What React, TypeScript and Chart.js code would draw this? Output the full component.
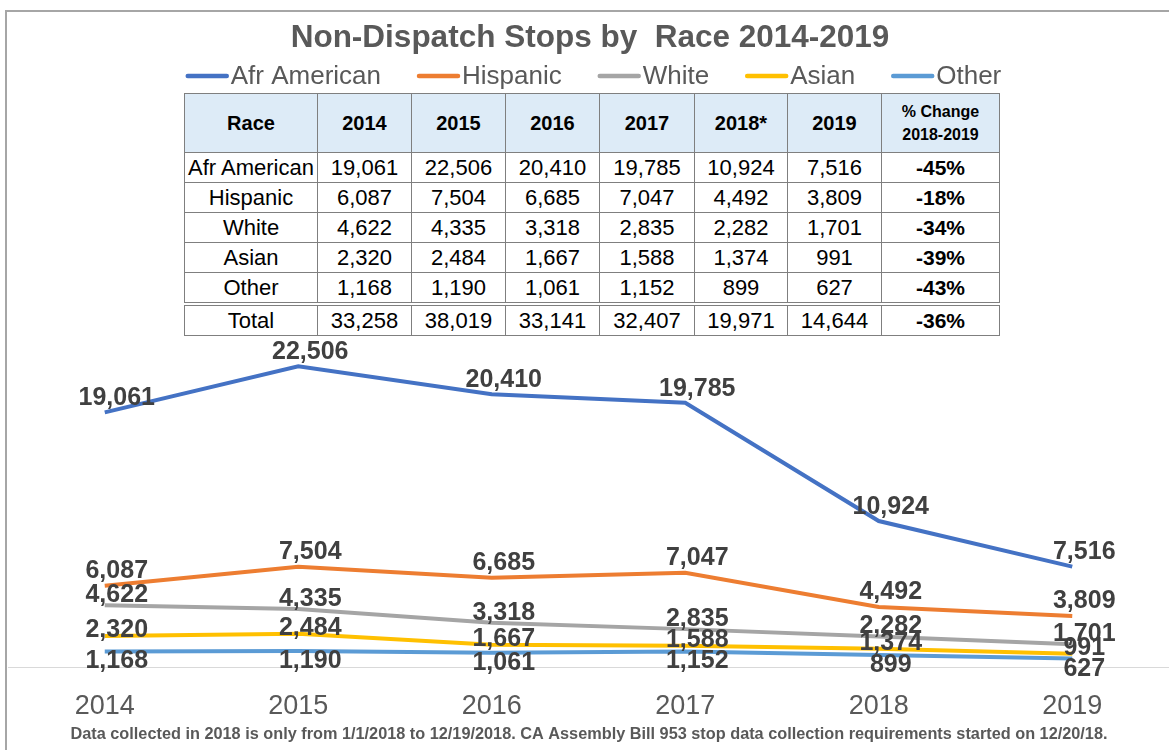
import React, { useEffect, useRef } from "react";
import { Chart, registerables } from "chart.js";

Chart.register(...registerables);

// ---------- data ----------
const years = ["2014", "2015", "2016", "2017", "2018", "2019"];
const tableYears = ["2014", "2015", "2016", "2017", "2018*", "2019"];
const races = ["Afr American", "Hispanic", "White", "Asian", "Other"];
const afrAmerican = [19061, 22506, 20410, 19785, 10924, 7516];
const hispanic = [6087, 7504, 6685, 7047, 4492, 3809];
const white = [4622, 4335, 3318, 2835, 2282, 1701];
const asian = [2320, 2484, 1667, 1588, 1374, 991];
const other = [1168, 1190, 1061, 1152, 899, 627];
const totals = [33258, 38019, 33141, 32407, 19971, 14644];
const pctChange = ["-45%", "-18%", "-34%", "-39%", "-43%", "-36%"];

const seriesValues = [afrAmerican, hispanic, white, asian, other];

// ---------- style ----------
const seriesColors = ["#4472C4", "#ED7D31", "#A5A5A5", "#FFC000", "#5B9BD5"];
const labelYOffsets = [-14, -15, -10, -6, 10];
const FONT = "'Liberation Sans', Arial, sans-serif";
const TITLE = "Non-Dispatch Stops by  Race 2014-2019";
const FOOTNOTE =
  "Data collected in 2018 is only from 1/1/2018 to 12/19/2018. CA Assembly Bill 953 stop data collection requirements started on 12/20/18.";

const fmt = (v: number) => v.toLocaleString("en-US");

const decorPlugin = {
  id: "decor",
  afterDraw(chart: any) {
    const ctx = chart.ctx;
    ctx.save();
    // title
    ctx.fillStyle = "#595959";
    ctx.font = `bold 31.5px ${FONT}`;
    ctx.textAlign = "center";
    ctx.textBaseline = "middle";
    ctx.fillText(TITLE, 590, 38);
    // legend
    ctx.font = `26px ${FONT}`;
    const lineW = 43;
    const gapLT = 2;
    const itemGap = 36;
    const widths = chart.data.datasets.map((d: any) => ctx.measureText(d.label).width);
    const total =
      widths.reduce((a: number, b: number) => a + b, 0) +
      widths.length * (lineW + gapLT) +
      (widths.length - 1) * itemGap;
    let x = 593.5 - total / 2;
    const ly = 76;
    chart.data.datasets.forEach((d: any, i: number) => {
      ctx.strokeStyle = d.borderColor;
      ctx.lineWidth = 4.5;
      ctx.lineCap = "round";
      ctx.beginPath();
      ctx.moveTo(x + 2, ly);
      ctx.lineTo(x + lineW - 2, ly);
      ctx.stroke();
      ctx.fillStyle = "#595959";
      ctx.textAlign = "left";
      ctx.fillText(d.label, x + lineW + gapLT, ly + 1);
      x += lineW + gapLT + widths[i] + itemGap;
    });
    // footnote
    ctx.font = `bold 16.3px ${FONT}`;
    ctx.textAlign = "center";
    ctx.fillStyle = "#595959";
    ctx.fillText(FOOTNOTE, 589, 735);
    ctx.restore();
  },
};

const labelPlugin = {
  id: "pointLabels",
  afterDatasetsDraw(chart: any) {
    const ctx = chart.ctx;
    ctx.save();
    ctx.font = `bold 25px ${FONT}`;
    ctx.fillStyle = "#404040";
    ctx.textAlign = "center";
    ctx.textBaseline = "middle";
    chart.data.datasets.forEach((d: any, i: number) => {
      const meta = chart.getDatasetMeta(i);
      meta.data.forEach((pt: any, j: number) => {
        ctx.fillText(fmt(d.data[j]), pt.x + 12, pt.y + labelYOffsets[i]);
      });
    });
    ctx.restore();
  },
};

const cellBorder = "1px solid #7f7f7f";

function DataTable() {
  const tdBase: React.CSSProperties = {
    border: cellBorder,
    padding: 0,
    textAlign: "center",
    verticalAlign: "middle",
    fontSize: 22,
    height: 29,
    color: "#000",
    whiteSpace: "nowrap",
  };
  const colW = [133, 94, 94, 94, 95, 93, 94, 118];
  return (
    <table
      style={{
        position: "absolute",
        left: 184,
        top: 93,
        borderCollapse: "collapse",
        fontFamily: FONT,
        background: "#fff",
        tableLayout: "fixed",
        width: 815,
      }}
    >
      <colgroup>
        {colW.map((w, i) => (
          <col key={i} style={{ width: w }} />
        ))}
      </colgroup>
      <thead>
        <tr style={{ background: "#DDEBF7" }}>
          <th style={{ ...tdBase, height: 58, fontSize: 20, fontWeight: "bold" }}>Race</th>
          {tableYears.map((y) => (
            <th key={y} style={{ ...tdBase, height: 58, fontSize: 20, fontWeight: "bold" }}>
              {y}
            </th>
          ))}
          <th style={{ ...tdBase, height: 58, fontSize: 16, fontWeight: "bold", lineHeight: "23px" }}>
            % Change
            <br />
            2018-2019
          </th>
        </tr>
      </thead>
      <tbody>
        {races.map((r, i) => (
          <tr key={r}>
            <td style={tdBase}>{r}</td>
            {seriesValues[i].map((v, j) => (
              <td key={j} style={tdBase}>
                {fmt(v)}
              </td>
            ))}
            <td style={{ ...tdBase, fontWeight: "bold", fontSize: 21 }}>{pctChange[i]}</td>
          </tr>
        ))}
        <tr>
          <td style={{ ...tdBase, borderTop: "4px double #7f7f7f" }}>Total</td>
          {totals.map((v, j) => (
            <td key={j} style={{ ...tdBase, borderTop: "4px double #7f7f7f" }}>
              {fmt(v)}
            </td>
          ))}
          <td style={{ ...tdBase, borderTop: "4px double #7f7f7f", fontWeight: "bold", fontSize: 21 }}>
            {pctChange[5]}
          </td>
        </tr>
      </tbody>
    </table>
  );
}

export default function App() {
  const ref = useRef<HTMLCanvasElement>(null);
  useEffect(() => {
    if (!ref.current) return;
    const chart = new Chart(ref.current, {
      type: "line",
      data: {
        labels: years,
        datasets: races.map((r, i) => ({
          label: r,
          data: seriesValues[i],
          borderColor: seriesColors[i],
          backgroundColor: seriesColors[i],
          borderWidth: 4,
          pointRadius: 0,
          tension: 0,
          fill: false,
          clip: false as any,
        })),
      },
      options: {
        animation: false,
        responsive: false,
        maintainAspectRatio: false,
        layout: { padding: { top: 333, left: 8, right: -6, bottom: 0 } },
        plugins: {
          legend: { display: false },
          title: { display: false },
          tooltip: { enabled: false },
        },
        scales: {
          x: {
            offset: true,
            grid: { display: false, drawTicks: false, offset: true },
            border: { display: true, color: "#d9d9d9", width: 1 },
            ticks: {
              color: "#595959",
              font: { family: FONT, size: 27 },
              padding: 23,
            },
            afterFit: (scale: any) => {
              scale.height = 83;
            },
          },
          y: {
            display: false,
            min: 0,
            max: 25000,
          },
        },
      },
      plugins: [labelPlugin, decorPlugin],
    });
    return () => chart.destroy();
  }, []);

  return (
    <div
      style={{
        position: "fixed",
        left: 0,
        top: 0,
        width: 1169,
        height: 750,
        background: "#fff",
        overflow: "hidden",
      }}
    >
      <canvas ref={ref} width={1169} height={750} style={{ position: "absolute", left: 0, top: 0 }} />
      <div
        style={{
          position: "absolute",
          left: 5,
          top: 10,
          width: 1200,
          height: 800,
          borderLeft: "2px solid #a6a6a6",
          borderTop: "2px solid #a6a6a6",
          pointerEvents: "none",
        }}
      />
      <DataTable />
    </div>
  );
}
